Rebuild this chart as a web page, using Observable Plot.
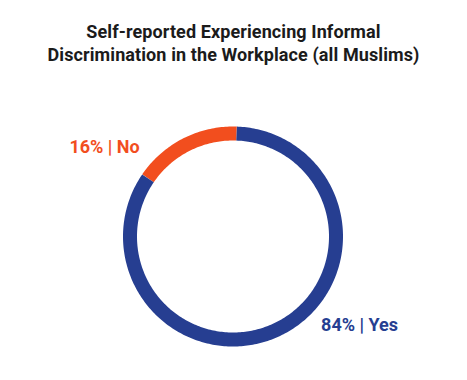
<!DOCTYPE html>
<html>
<head>
<meta charset="utf-8">
<script src="https://cdn.jsdelivr.net/npm/d3@7"></script>
<script src="https://cdn.jsdelivr.net/npm/@observablehq/plot@0.6"></script>
<style>
  html, body { margin: 0; padding: 0; background: #fff; }
  #wrap { width: 467px; height: 380px; overflow: hidden; }
  #title {
    font-family: Roboto, "DejaVu Sans", sans-serif;
    font-weight: 700;
    font-size: 18px;
    line-height: 23px;
    color: #1b1b1b;
    text-align: center;
    padding-top: 20px;
    height: 60px;
    letter-spacing: 0.1px;
  }
  svg { display: block; }
</style>
</head>
<body>
<div id="wrap">
  <div id="title">Self-reported Experiencing Informal<br>Discrimination in the Workplace (all Muslims)</div>
  <div id="chart"></div>
</div>
<script>
const categories = ["No", "Yes"];
const values = [16, 84];
const colors = ["#F24E1E", "#263E91"];
const labels = ["16% | No", "84% | Yes"];

const W = 467, H = 300;
const cx = 232.5, cy = 156;          // ring centre inside the svg (px)
const rMid = 103, ring = 14;
const startDeg = -55.6;                 // orange slice start (clockwise from top)

const total = d3.sum(values);
let acc = startDeg;
const arcPts = [];
values.forEach((v, i) => {
  const a0 = acc, a1 = acc + v / total * 360;
  acc = a1;
  const n = Math.max(2, Math.ceil((a1 - a0) / 1));
  for (let k = 0; k <= n; k++) {
    const a = (a0 + (a1 - a0) * k / n) * Math.PI / 180;
    arcPts.push({cat: categories[i], x: rMid * Math.sin(a), y: rMid * Math.cos(a)});
  }
});

const labelAngles = [-45.5, 134];
const labelR = 128;
const labelData = categories.map((c, i) => {
  const a = labelAngles[i] * Math.PI / 180;
  return {cat: c, text: labels[i], x: labelR * Math.sin(a), y: labelR * Math.cos(a), anchor: i === 0 ? "end" : "start"};
});

const chart = Plot.plot({
  width: W, height: H,
  margin: 0,
  x: {domain: [-cx, W - cx], axis: null},
  y: {domain: [cy - H, cy], axis: null},
  color: {domain: categories, range: colors},
  marks: [
    Plot.line(arcPts, {x: "x", y: "y", z: "cat", stroke: "cat", strokeWidth: ring, strokeLinecap: "butt", strokeLinejoin: "round"}),
    Plot.text(labelData.filter(d => d.anchor === "end"), {x: "x", y: "y", dx: -2, text: "text", fill: "cat", textAnchor: "end", fontSize: 18, fontWeight: 700, fontFamily: "Roboto, sans-serif", letterSpacing: 1.4}),
    Plot.text(labelData.filter(d => d.anchor === "start"), {x: "x", y: "y", dx: -4, text: "text", fill: "cat", textAnchor: "start", fontSize: 18, fontWeight: 700, fontFamily: "Roboto, sans-serif", letterSpacing: 1.2})
  ]
});
document.getElementById("chart").appendChild(chart);
</script>
</body>
</html>
